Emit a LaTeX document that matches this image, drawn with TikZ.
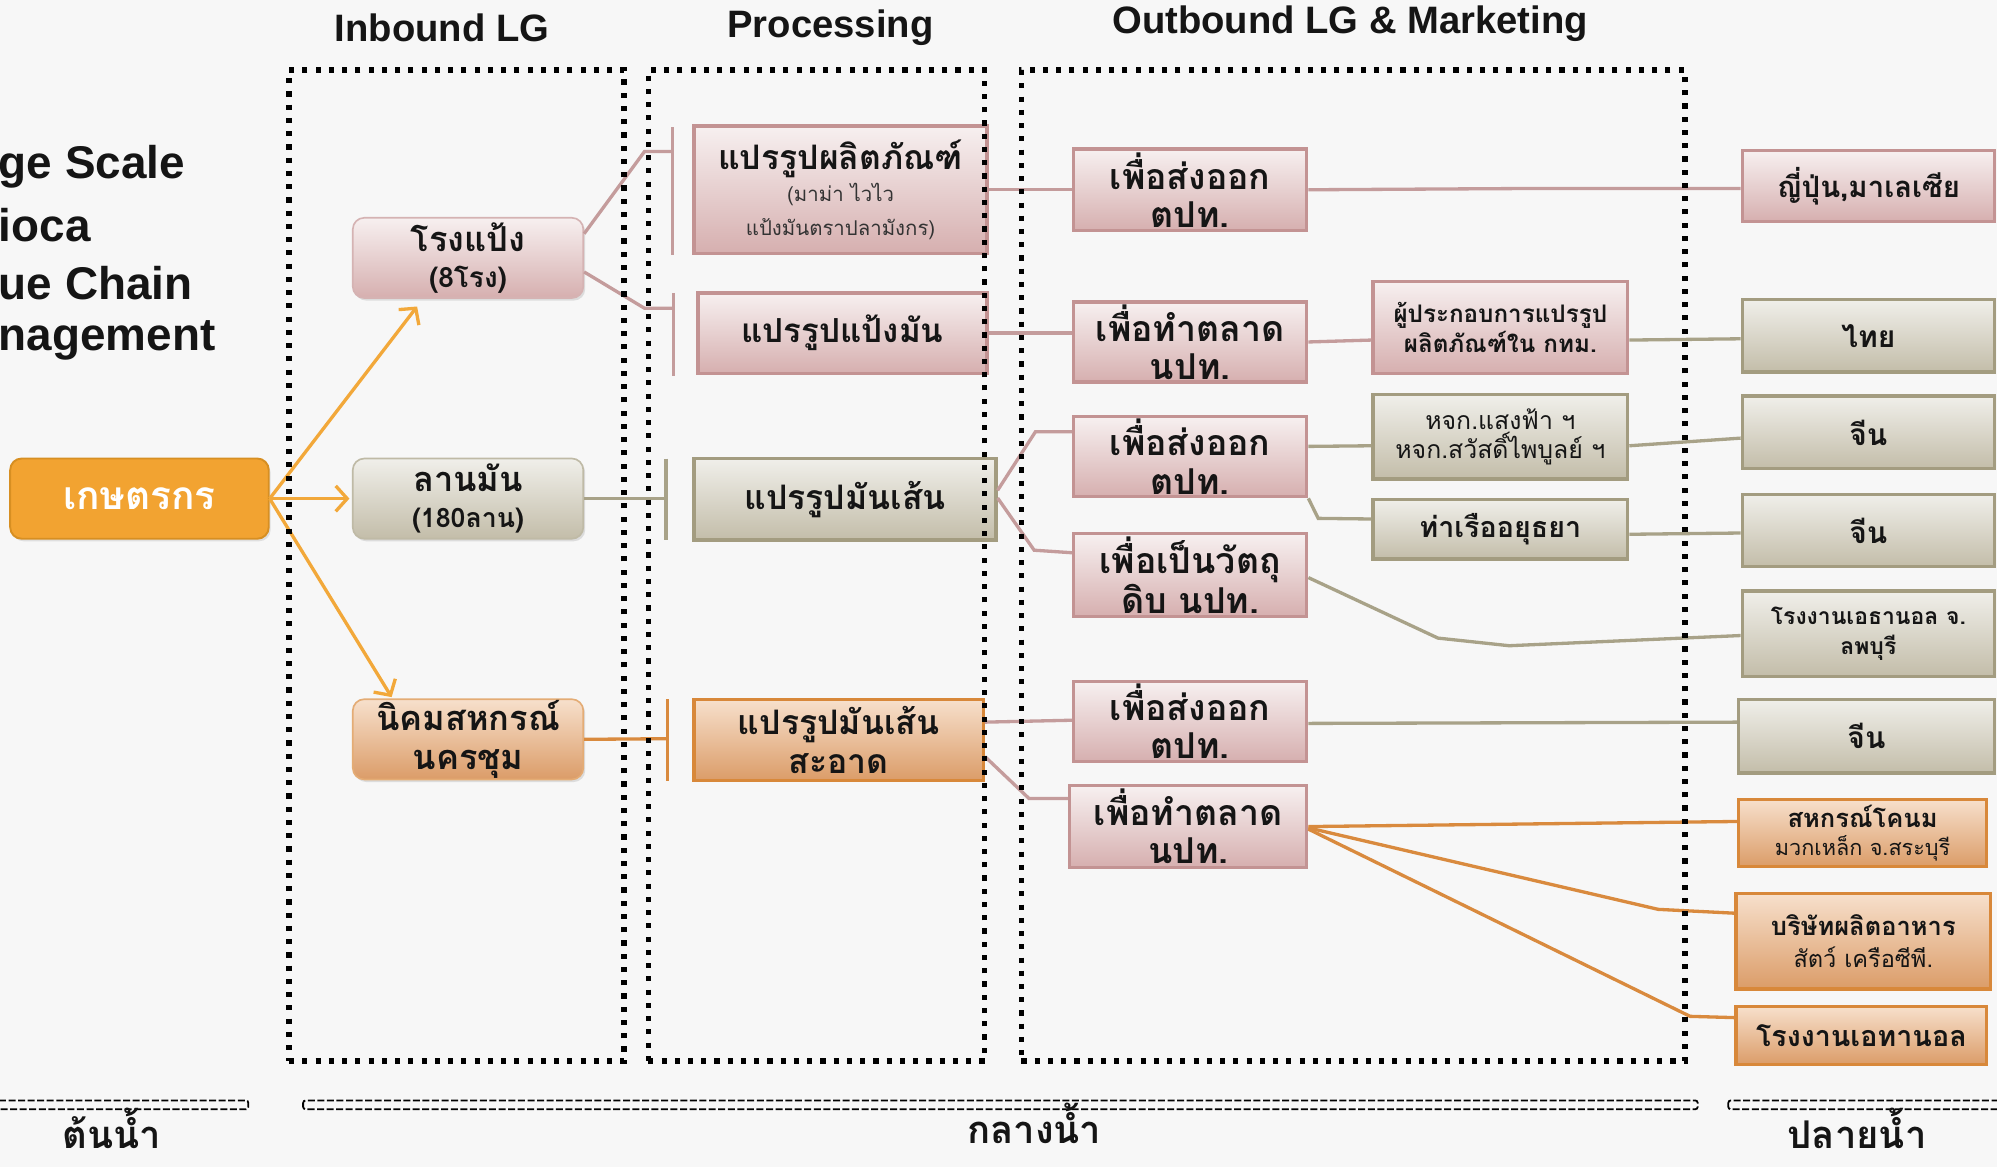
\documentclass[tikz,border=0pt]{standalone}
\usepackage{fontspec}
\setmainfont{Liberation Sans}
\newfontfamily\thaifont[Script=Thai]{Loma}
\usetikzlibrary{arrows.meta,shadows,calc}
\definecolor{bgc}{HTML}{F7F7F7}
\definecolor{pinktop}{HTML}{F7F0F0}
\definecolor{pinkbot}{HTML}{D6AFAF}
\definecolor{pinkdraw}{HTML}{C39393}
\definecolor{pinkln}{HTML}{C49C9C}
\definecolor{khtop}{HTML}{F0EFEA}
\definecolor{khbot}{HTML}{C3BDA9}
\definecolor{khdraw}{HTML}{A39C80}
\definecolor{khln}{HTML}{A8A288}
\definecolor{ortop}{HTML}{F7E0CC}
\definecolor{orbot}{HTML}{DB9C68}
\definecolor{ordraw}{HTML}{D8883A}
\definecolor{orln}{HTML}{D98A3E}
\definecolor{farm}{HTML}{F2A331}
\definecolor{farmdraw}{HTML}{D78F22}
\definecolor{arr}{HTML}{F2A83A}
\definecolor{txt}{HTML}{151515}
\definecolor{subtxt}{HTML}{333333}
\newcommand\thb{\thaifont\bfseries}
\newcommand\fs[2]{\fontsize{#1}{#2}\selectfont}
\tikzset{
  boxbase/.style={align=center, inner sep=1pt, text=txt, font=\thb\fs{28}{30}},
  pinkbox/.style={boxbase, draw=pinkdraw, line width=2.6pt, top color=pinktop, bottom color=pinkbot},
  khbox/.style={boxbase, draw=khdraw, line width=2.6pt, top color=khtop, bottom color=khbot},
  orbox/.style={boxbase, draw=ordraw, line width=2.6pt, top color=ortop, bottom color=orbot},
  rnd/.style={rounded corners=9pt, line width=1.3pt, drop shadow={opacity=0.22, shadow xshift=1.5pt, shadow yshift=-2pt}},
  pinkline/.style={draw=pinkln, line width=2.6pt},
  khline/.style={draw=khln, line width=2.6pt},
  orline/.style={draw=orln, line width=2.6pt},
  farrow/.style={draw=arr, line width=2.6pt, -{Straight Barb[length=9pt,width=20pt,line width=2.6pt]}},
  dotbox/.style={draw=black, line width=4.2pt, dash pattern=on 4pt off 6.4pt},
  brk/.style={draw=black, line width=1.4pt, dash pattern=on 5.5pt off 2pt, rounded corners=2pt},
  hdr/.style={font=\bfseries\fs{30}{34}, text=txt},
  ttl/.style={font=\bfseries\fs{36}{40}, text=txt, anchor=west, inner sep=0pt},
  foot/.style={font=\thb\fs{30}{32}, text=txt, anchor=base, inner sep=0pt}
}
\begin{document}
\begin{tikzpicture}[x=1pt,y=-1pt]
\fill[bgc] (0,0) rectangle (1568,916.3);
\useasboundingbox (0,0) rectangle (1568,916.3);

% headers
\node[hdr] (hin) at (347,22) {Inbound LG};
\node[hdr] (hpr) at (652,22) {Processing};
\node[hdr] (hout) at (1060,19) {Outbound LG \& Marketing};

% left title
\node[ttl] (t1) at (-1,131) {ge Scale};
\node[ttl] (t2) at (-1,177) {ioca};
\node[ttl] (t3) at (-1,222) {ue Chain};
\node[ttl] (t4) at (-1,267) {nagement};

% bracket coordinates
\coordinate (b1t) at (528,100); \coordinate (b1b) at (528,200); \coordinate (b1j) at (528,119);
\coordinate (b2t) at (529,230); \coordinate (b2b) at (529,295); \coordinate (b2j) at (529,242);
\coordinate (b3t) at (523,360); \coordinate (b3b) at (523,424); \coordinate (b3j) at (523,391.5);
\coordinate (b4t) at (524,549); \coordinate (b4b) at (524,613); \coordinate (b4j) at (524,580);

% nodes
\node[draw=farmdraw, fill=farm, rounded corners=9pt, line width=1.5pt, minimum width=203, minimum height=63, text=white, font=\thb\fs{30.5}{32}, drop shadow={opacity=0.2, shadow xshift=1.5pt, shadow yshift=-2pt}] (farmer) at (109.5,391.5) {เกษตรกร};

\node[pinkbox, rnd, draw=pinkdraw!70, minimum width=181, minimum height=63, font=\thb\fs{27}{28}] (rongpang) at (367.5,202.5) {โรงแป้ง\\\fs{22}{24}(8โรง)};
\node[khbox, rnd, draw=khdraw!70, minimum width=181, minimum height=63, font=\thb\fs{27}{28}] (lanman) at (367.5,391.5) {ลานมัน\\\fs{21}{24}(180ลาน)};
\node[orbox, rnd, draw=ordraw!70, minimum width=181, minimum height=63, font=\thb\fs{27}{30}] (nikhom) at (367.5,580.5) {นิคมสหกรณ์\\นครชุม};

\node[pinkbox, minimum width=230, minimum height=100, font=\thb\fs{26.5}{27}] (p1) at (660,149) {แปรรูปผลิตภัณฑ์\\[-2pt]\mdseries\fs{16}{21}\color{subtxt}(มาม่า ไวไว\\\mdseries\fs{16}{21}\color{subtxt}แป้งมันตราปลามังกร)};
\node[pinkbox, minimum width=227, minimum height=63, font=\thb\fs{26}{28}] (p2) at (661.5,261.5) {แปรรูปแป้งมัน};
\node[khbox, minimum width=237, minimum height=64, font=\thb\fs{26.5}{28}] (p3) at (663.5,392) {แปรรูปมันเส้น};
\node[orbox, minimum width=227, minimum height=64, font=\thb\fs{26.5}{31}] (p4) at (658.5,581) {แปรรูปมันเส้น\\สะอาด};

\node[pinkbox, minimum width=183, minimum height=64] (o1) at (934.5,149) {เพื่อส่งออก\\ตปท.};
\node[pinkbox, minimum width=183, minimum height=63] (o2) at (934.5,268.5) {เพื่อทำตลาด\\นปท.};
\node[pinkbox, minimum width=183, minimum height=63] (o3) at (934.5,358.5) {เพื่อส่งออก\\ตปท.};
\node[pinkbox, minimum width=183, minimum height=65] (o4) at (934.5,451.5) {เพื่อเป็นวัตถุ\\ดิบ นปท.};
\node[pinkbox, minimum width=183, minimum height=63] (o5) at (934.5,566.5) {เพื่อส่งออก\\ตปท.};
\node[pinkbox, minimum width=186, minimum height=64] (o6) at (933,649) {เพื่อทำตลาด\\นปท.};

\node[pinkbox, minimum width=200, minimum height=72, font=\thb\fs{19}{23}] (m1) at (1178,257) {ผู้ประกอบการแปรรูป\\ผลิตภัณฑ์ใน กทม.};
\node[khbox, minimum width=200, minimum height=66, font=\thaifont\fs{19.5}{23}] (m2) at (1178,343) {หจก.แสงฟ้า ฯ\\หจก.สวัสดิ์ไพบูลย์ ฯ};
\node[khbox, minimum width=200, minimum height=47, font=\thb\fs{22.5}{24}] (m3) at (1178,415.5) {ท่าเรืออยุธยา};

\node[pinkbox, minimum width=198, minimum height=56, font=\thb\fs{23}{24}] (r1) at (1467,146) {ญี่ปุ่น,มาเลเซีย};
\node[khbox, minimum width=198, minimum height=57, font=\thb\fs{23.5}{24}] (r2) at (1467,263.5) {ไทย};
\node[khbox, minimum width=198, minimum height=57, font=\thb\fs{23.5}{24}] (r3) at (1467,339.5) {จีน};
\node[khbox, minimum width=198, minimum height=57, font=\thb\fs{23.5}{24}] (r4) at (1467,416.5) {จีน};
\node[khbox, minimum width=198, minimum height=67, font=\thb\fs{18}{23}] (r5) at (1467,497.5) {โรงงานเอธานอล จ.\\ลพบุรี};
\node[khbox, minimum width=201, minimum height=58, font=\thb\fs{23.5}{24}] (r6) at (1465.5,578) {จีน};
\node[orbox, minimum width=195, minimum height=53, font=\thb\fs{20}{22}] (r7) at (1462.5,654) {สหกรณ์โคนม\\\mdseries\fs{17}{21}มวกเหล็ก จ.สระบุรี};
\node[orbox, minimum width=200, minimum height=75, font=\thb\fs{20}{25}] (r8) at (1463,739) {บริษัทผลิตอาหาร\\\mdseries\fs{18.5}{23}สัตว์ เครือซีพี.};
\node[orbox, minimum width=197, minimum height=46, font=\thb\fs{22.5}{24}] (r9) at (1461.5,813) {โรงงานเอทานอล};

% connectors
\draw[farrow] (farmer.east) -- ([xshift=-40pt,yshift=-6pt]rongpang.south);
\draw[farrow] (farmer.east) -- ([xshift=-2pt]lanman.west);
\draw[farrow] (farmer.east) -- ([xshift=-60pt,yshift=1pt]nikhom.north);

\draw[pinkline] (b1t) -- (b1b);
\draw[pinkline] (b2t) -- (b2b);
\draw[khline] (b3t) -- (b3b);
\draw[orline] (b4t) -- (b4b);
\draw[pinkline] ([yshift=19pt]rongpang.east) -- (506,119) -- (b1j);
\draw[pinkline] ([yshift=-11pt]rongpang.east) -- (506,242) -- (b2j);
\draw[khline] (lanman.east) -- (b3j);
\draw[orline] (nikhom.east) -- (b4j);

\draw[pinkline] (p1.east) -- (o1.west);
\draw[pinkline] (p2.east) -- (p2.east -| o2.west);
\draw[pinkline] ([yshift=7pt]p3.east) -- (813,339) -- ([yshift=19.5pt]o3.west);
\draw[pinkline] ([yshift=1pt]p3.east) -- (812,432) -- ([yshift=17.5pt]o4.west);
\draw[pinkline] ([yshift=14pt]p4.east) -- ([yshift=1pt]o5.west);
\draw[pinkline] ([yshift=-13pt]p4.east) -- (808,627) -- ([yshift=22pt]o6.west);

\draw[pinkline] (o1.east) -- (1200,148) -- ([yshift=-2pt]r1.west);
\draw[pinkline] (o2.east) -- ([yshift=-10pt]m1.west);
\draw[khline] ([yshift=-10pt]m1.east) -- ([yshift=-2.5pt]r2.west);
\draw[khline] ([yshift=8pt]o3.east) -- ([yshift=-7pt]m2.west);
\draw[khline] ([yshift=-7pt]m2.east) -- ([yshift=-4.5pt]r3.west);
\draw[khline] (o3.south east) -- (1035,407) -- ([yshift=8pt]m3.west);
\draw[khline] ([yshift=-4pt]m3.east) -- ([yshift=-2pt]r4.west);
\draw[khline] ([yshift=-2pt]o4.east) -- (1129,501) -- (1185,507) -- ([yshift=-1.5pt]r5.west);
\draw[khline] ([yshift=-1.5pt]o5.east) -- ([yshift=11pt]r6.west);
\draw[orline] (o6.east) -- ([yshift=9pt]r7.west);
\draw[orline] ([yshift=-1pt]o6.east) -- (1302,714) -- ([yshift=22pt]r8.west);
\draw[orline] ([yshift=-2pt]o6.east) -- (1327,798) -- ([yshift=14pt]r9.west);

% dotted stage boxes (on top)
\node[dotbox, minimum width=263, minimum height=778] (zin) at (358.5,444) {};
\node[dotbox, minimum width=264, minimum height=778] (zpr) at (641,444) {};
\node[dotbox, minimum width=521, minimum height=778] (zout) at (1062.5,444) {};

% bottom brackets and labels
\draw[brk] (-3,864) rectangle (195,871);
\draw[brk] (238,864) rectangle (1333,871);
\draw[brk] (1357,864) rectangle (1571,871);
\node[foot] (up) at (88,902) {ต้นน้ำ};
\node[foot] (mid) at (812,898) {กลางน้ำ};
\node[foot] (down) at (1458,902) {ปลายน้ำ};
\end{tikzpicture}
\end{document}
